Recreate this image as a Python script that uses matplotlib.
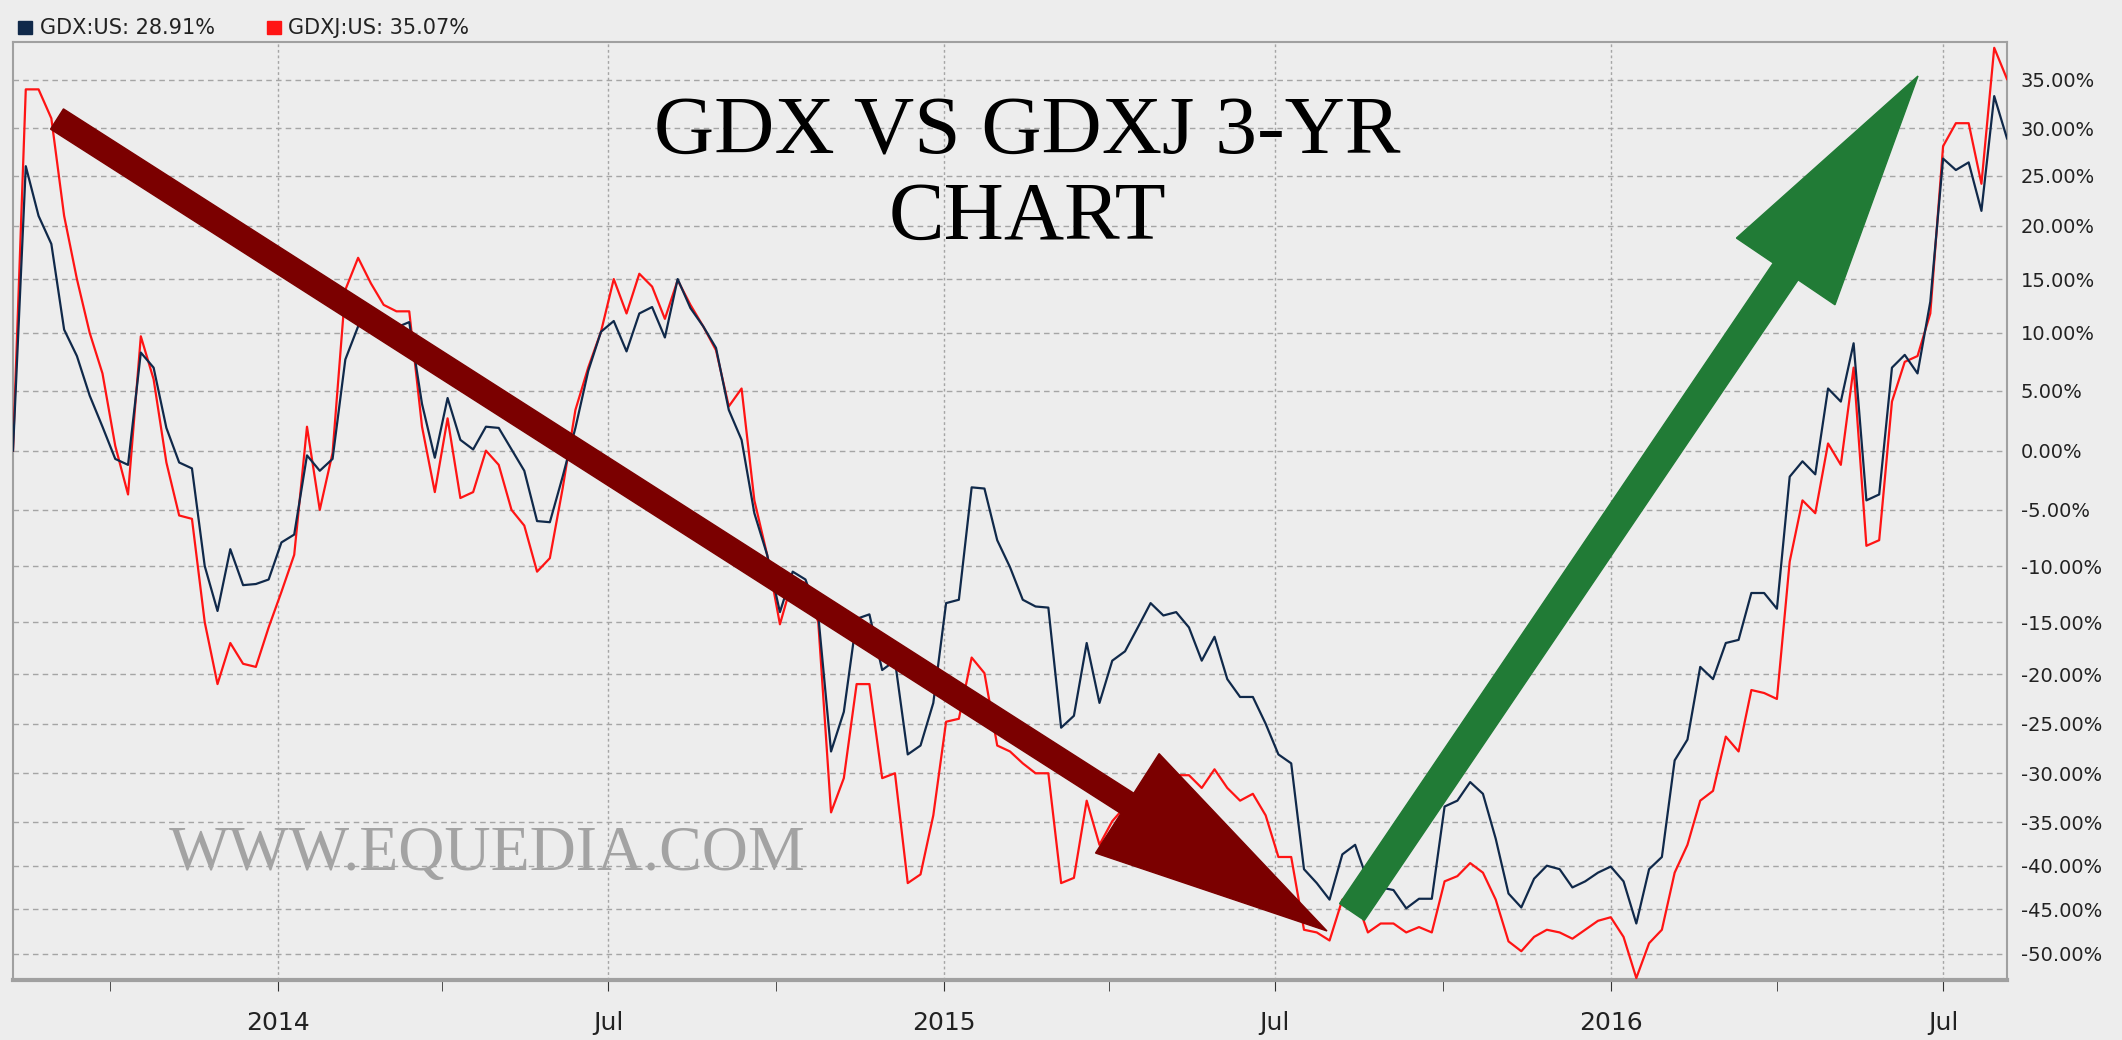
import numpy as np
import pandas as pd
import matplotlib
matplotlib.use("Agg")
import matplotlib.pyplot as plt
import matplotlib.dates as mdates
from matplotlib.patches import FancyArrow
from matplotlib.ticker import FixedLocator

# weekly cumulative return (%), starting 2013-08-09
gdx = [0, 26, 21, 18.3, 10.3, 8, 4.6, 2, -0.7, -1.2, 8.3, 7, 1.9, -1, -1.5, -10, -14, -8.5, -11.7, -11.6,
       -11.2, -7.9, -7.2, -0.4, -1.7, -0.7, 7.7, 10.6, 11, 10.6, 10.5, 11, 3.9, -0.6, 4.4, 0.9, 0.1, 2, 1.9, 0.1,
       -1.7, -6, -6.1, -2.2, 1.9, 6.7, 10.1, 11.1, 8.4, 11.8, 12.4, 9.6, 15, 12.3, 10.6, 8.7, 3.4, 0.9, -5.3, -9,
       -14.1, -10.5, -11.2, -14.4, -27.8, -23.8, -14.7, -14.3, -19.6, -18.7, -28.1, -27.2, -22.9, -13.3, -13, -3.1, -3.2, -7.7, -10.1, -13,
       -13.6, -13.7, -25.4, -24.2, -17, -22.9, -18.7, -17.8, -15.5, -13.3, -14.4, -14.1, -15.5, -18.7, -16.4, -20.5, -22.3, -22.3, -25, -28.1,
       -29, -40.4, -42, -43.9, -38.7, -37.6, -41.8, -42.5, -42.8, -44.9, -43.8, -43.8, -33.4, -32.8, -30.9, -32.1, -36.9, -43.2, -44.8, -41.5,
       -40, -40.4, -42.5, -41.8, -40.8, -40.1, -41.8, -46.6, -40.4, -39, -28.7, -26.6, -19.3, -20.5, -17, -16.7, -12.4, -12.4, -13.8, -2.2,
       -0.9, -2, 5.2, 4.1, 9.1, -4.2, -3.7, 7, 8.1, 6.5, 12.9, 26.8, 25.6, 26.4, 21.5, 33.3, 28.91]
gdxj = [0, 34, 34, 31, 21, 15, 10, 6.5, 0.4, -3.7, 9.7, 6, -1, -5.5, -5.8, -15, -21, -17, -19, -19.3,
        -15.5, -12.3, -9, 2, -5, -0.2, 14, 17, 14.6, 12.6, 12, 12, 2, -3.5, 2.7, -4, -3.5, 0, -1.2, -5,
        -6.4, -10.5, -9.3, -3.2, 3.4, 7, 10.1, 15, 11.8, 15.5, 14.3, 11.3, 14.9, 12.6, 10.6, 8.5, 3.7, 5.2, -4.2, -9,
        -15.2, -11.2, -11.5, -15, -34, -30.5, -21, -21, -30.5, -30, -42, -41, -34.3, -24.8, -24.5, -18.4, -19.9, -27.2, -27.8, -29,
        -30, -30, -42, -41.4, -32.8, -37.6, -34.9, -33.4, -31.8, -30.2, -30.2, -30.2, -30.2, -31.5, -29.6, -31.5, -32.8, -32.1, -34.3, -39,
        -39, -47.3, -47.6, -48.5, -43.9, -43.6, -47.6, -46.6, -46.6, -47.6, -47, -47.6, -41.8, -41.2, -39.7, -40.8, -43.9, -48.6, -49.7, -48.1,
        -47.3, -47.6, -48.3, -47.3, -46.3, -45.9, -48.1, -52.5, -48.8, -47.3, -40.8, -37.6, -32.8, -31.8, -26.3, -27.8, -21.6, -21.9, -22.5, -9.6,
        -4.2, -5.3, 0.6, -1.2, 7, -8.2, -7.7, 4.1, 7.5, 8, 11.8, 28.1, 30.5, 30.5, 24.2, 38.3, 35.07]
dates = pd.date_range("2013-08-09", periods=len(gdx), freq="7D")

y_ticks = list(range(35, -51, -5))
# the source chart's vertical axis is slightly non-linear: gridline positions (px)
grid_px = [-17, 63, 143, 222, 305, 393, 482, 578, 677, 775, 868, 961, 1047, 1129, 1211, 1292, 1364, 1436, 1510, 1590]
grid_val = [40] + y_ticks + [-55]
gv = np.array(grid_val[::-1], float)
gp = -np.array(grid_px[::-1], float)
fwd = lambda v: np.interp(v, gv, gp)
inv = lambda p: np.interp(p, gp, gv)

bg = "#ededed"
fig = plt.figure(figsize=(21.22, 10.40), dpi=100, facecolor=bg)
ax = fig.add_axes([13 / 2122, 1 - 980 / 1040, (2007 - 13) / 2122, (980 - 42) / 1040], facecolor=bg)
ax.set_yscale("function", functions=(fwd, inv))

ax.plot(dates, gdxj, color="#ff1414", lw=1.6, zorder=3)
ax.plot(dates, gdx, color="#10294a", lw=1.6, zorder=4)

ax.set_xlim(dates[0], dates[-1])
ax.set_ylim(-52.7, 38.9)

ax.yaxis.set_major_locator(FixedLocator(y_ticks))
ax.yaxis.tick_right()
ax.set_yticklabels([f"{v:.2f}%" for v in y_ticks])
ax.tick_params(axis="y", length=0, pad=10, labelsize=14, labelcolor="#222222")

major = pd.to_datetime(["2014-01-01", "2014-07-01", "2015-01-01", "2015-07-01", "2016-01-01", "2016-07-01"])
minor = pd.to_datetime(["2013-10-01", "2014-04-01", "2014-10-01", "2015-04-01", "2015-10-01", "2016-04-01"])
ax.set_xticks(major)
ax.set_xticklabels(["2014", "Jul", "2015", "Jul", "2016", "Jul"])
ax.set_xticks(minor, minor=True)
ax.tick_params(axis="x", which="both", direction="out", length=8, color="#333333", labelsize=18, pad=14,
               labelcolor="#222222")

ax.grid(axis="y", ls=(0, (4, 3)), color="#a5a5a5", lw=1)
ax.grid(axis="x", which="major", ls=(0, (2, 2)), color="#a5a5a5", lw=1)
for s in ax.spines.values():
    s.set_color("#a0a0a0")
    s.set_linewidth(1.5)
ax.spines["bottom"].set_linewidth(3)

# legend strip
fig.patches.append(plt.Rectangle((18 / 2122, 1 - 34 / 1040), 14 / 2122, 13 / 1040, color="#10294a",
                                 transform=fig.transFigure))
fig.patches.append(plt.Rectangle((267 / 2122, 1 - 34 / 1040), 14 / 2122, 13 / 1040, color="#ff1414",
                                 transform=fig.transFigure))
fig.text(40 / 2122, 1 - 28 / 1040, "GDX:US: 28.91%", fontsize=15, va="center", color="#222222")
fig.text(288 / 2122, 1 - 28 / 1040, "GDXJ:US: 35.07%", fontsize=15, va="center", color="#222222")

# title and watermark
fig.text(1027 / 2122, 1 - 134 / 1040, "GDX VS GDXJ 3-YR", family="Liberation Serif", fontsize=60,
         ha="center", va="center", color="black", zorder=10)
fig.text(1027 / 2122, 1 - 219 / 1040, "CHART", family="Liberation Serif", fontsize=60,
         ha="center", va="center", color="black", zorder=10)
fig.text(487 / 2122, 1 - 855 / 1040, "WWW.EQUEDIA.COM", family="Liberation Serif", fontsize=46,
         ha="center", va="center", color="#a3a3a3", zorder=10)


def arrow(tail, tip, w, hw, hl, color):
    x0, y0 = tail[0] / 100, (1040 - tail[1]) / 100
    x1, y1 = tip[0] / 100, (1040 - tip[1]) / 100
    a = FancyArrow(x0, y0, x1 - x0, y1 - y0, width=w / 100, head_width=hw / 100, head_length=hl / 100,
                   length_includes_head=True, color=color, transform=fig.dpi_scale_trans, zorder=20)
    fig.patches.append(a)


arrow((57, 119), (1327, 931), 24, 118, 237, "#7b0000")
arrow((1352, 912), (1918, 76), 30, 119, 236, "#217b36")

fig.savefig("out.png", dpi=100, facecolor=bg)
